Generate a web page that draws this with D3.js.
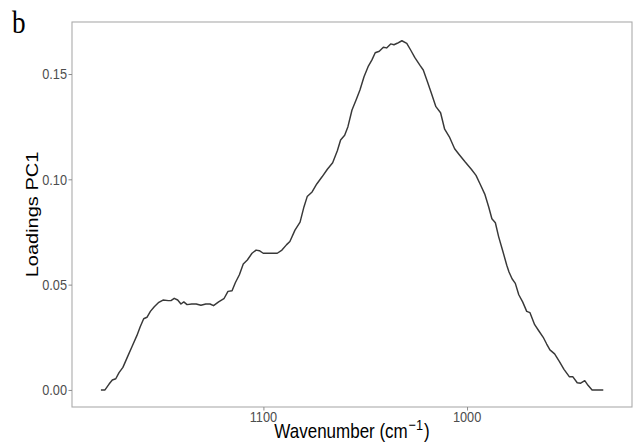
<!DOCTYPE html>
<html>
<head>
<meta charset="utf-8">
<script src="https://cdn.jsdelivr.net/npm/d3@7"></script>
<style>
  html, body { margin: 0; padding: 0; background: #fff; }
  svg { display: block; }
</style>
</head>
<body>
<svg id="chart" width="634" height="448"></svg>
<script>
// Data
const wavenumbers = [1179.8,1177.8,1175.8,1174.2,1172.5,1170.9,1169.0,1166.7,1164.4,1162.1,1160.5,1158.8,1157.2,1155.5,1153.6,1151.6,1149.3,1146.7,1145.4,1143.8,1142.1,1140.5,1139.1,1137.5,1135.2,1133.0,1130.7,1128.3,1126.2,1124.5,1122.0,1119.4,1117.4,1115.4,1113.8,1111.8,1109.9,1107.9,1105.6,1103.6,1102.0,1100.1,1097.8,1095.8,1093.2,1090.9,1088.6,1087.0,1084.5,1082.0,1080.1,1078.5,1076.1,1073.8,1071.2,1068.6,1066.0,1063.7,1062.1,1060.1,1058.5,1056.5,1054.5,1052.6,1050.6,1048.6,1046.7,1045.1,1043.1,1041.1,1039.5,1037.5,1035.9,1034.3,1032.0,1029.6,1027.7,1025.7,1023.1,1021.5,1019.5,1017.6,1015.3,1013.0,1011.0,1008.7,1006.1,1003.8,1000.9,997.9,995.6,993.6,991.3,989.4,987.8,986.1,984.5,982.5,980.5,979.4,977.9,976.3,974.6,972.7,970.7,969.1,966.8,964.8,962.6,960.9,959.3,957.0,954.7,952.4,949.8,948.1,945.9,944.2,942.2,940.6,938.6,936.3,933.1];
const loadings = [0.0000,0.0000,0.0028,0.0047,0.0053,0.0082,0.0107,0.0158,0.0209,0.0259,0.0300,0.0338,0.0345,0.0373,0.0395,0.0414,0.0427,0.0424,0.0424,0.0435,0.0427,0.0408,0.0418,0.0405,0.0408,0.0408,0.0402,0.0408,0.0408,0.0400,0.0418,0.0433,0.0468,0.0471,0.0509,0.0547,0.0598,0.0617,0.0649,0.0664,0.0661,0.0649,0.0649,0.0649,0.0649,0.0664,0.0690,0.0705,0.0759,0.0797,0.0869,0.0918,0.0940,0.0978,0.1012,0.1048,0.1079,0.1136,0.1187,0.1209,0.1250,0.1329,0.1377,0.1424,0.1487,0.1535,0.1567,0.1601,0.1608,0.1627,0.1624,0.1643,0.1639,0.1646,0.1658,0.1646,0.1614,0.1579,0.1541,0.1519,0.1465,0.1411,0.1345,0.1316,0.1238,0.1202,0.1145,0.1117,0.1082,0.1048,0.1019,0.0978,0.0930,0.0870,0.0813,0.0794,0.0728,0.0661,0.0592,0.0560,0.0528,0.0506,0.0452,0.0418,0.0373,0.0367,0.0310,0.0281,0.0250,0.0218,0.0190,0.0171,0.0136,0.0098,0.0063,0.0063,0.0034,0.0032,0.0044,0.0022,0.0000,0.0000,0.0000];
const xTicks = [1100, 1000];
const yTicks = [0.00, 0.05, 0.10, 0.15];
const xDomain = [1194, 919];
const yDomain = [-0.0081, 0.1747];
const panelLabel = "b";
const yTitle = "Loadings PC1";

(function () {
const svg = d3.select("#chart");
const pL = 72, pR = 632, pT = 22, pB = 407;
const sx = 0.85; // horizontal compression of the original figure

const x = d3.scaleLinear().domain(xDomain).range([pL, pR]);
const y = d3.scaleLinear().domain(yDomain).range([pB, pT]);

// Panel border
svg.append("rect")
  .attr("x", pL).attr("y", pT)
  .attr("width", pR - pL).attr("height", pB - pT)
  .attr("fill", "none").attr("stroke", "#ababab").attr("stroke-width", 1.1);

// Axes
const xAxis = svg.append("g").attr("transform", `translate(0,${pB})`)
  .call(d3.axisBottom(x).tickValues(xTicks).tickSize(3.5).tickPadding(2).tickFormat(d3.format("d")));
const yAxis = svg.append("g").attr("transform", `translate(${pL},0)`)
  .call(d3.axisLeft(y).tickValues(yTicks).tickSize(3.5).tickPadding(2).tickFormat(d3.format(".2f")));
[xAxis, yAxis].forEach(g => {
  g.select(".domain").remove();
  g.selectAll(".tick line").attr("stroke", "#8c8c8c").attr("stroke-width", 1);
  g.selectAll(".tick text").remove();
});

// Tick labels (drawn with horizontal compression)
xTicks.forEach(t => {
  svg.append("text")
    .attr("transform", `translate(${x(t)},${421.5}) scale(${sx},1)`)
    .attr("text-anchor", "middle")
    .attr("font-family", "Liberation Sans, Arial, sans-serif")
    .attr("font-size", 15).attr("fill", "#4d4d4d")
    .text(d3.format("d")(t));
});
yTicks.forEach(t => {
  svg.append("text")
    .attr("transform", `translate(${67},${y(t) + 5.3}) scale(${sx},1)`)
    .attr("text-anchor", "end")
    .attr("font-family", "Liberation Sans, Arial, sans-serif")
    .attr("font-size", 15).attr("fill", "#4d4d4d")
    .text(d3.format(".2f")(t));
});

// Line
const data = wavenumbers.map((w, i) => ({ w, v: loadings[i] }));
svg.append("path")
  .datum(data)
  .attr("fill", "none")
  .attr("stroke", "#383838")
  .attr("stroke-width", 1.45)
  .attr("stroke-linejoin", "round")
  .attr("d", d3.line().x(d => x(d.w)).y(d => y(d.v)));

// X title
const xt = svg.append("text")
  .attr("transform", `translate(${(pL + pR) / 2},${437.5}) scale(${sx},1)`)
  .attr("text-anchor", "middle")
  .attr("font-family", "Liberation Sans, Arial, sans-serif")
  .attr("font-size", 20).attr("fill", "#000");
xt.append("tspan").text("Wavenumber (cm");
xt.append("tspan").attr("font-size", 15).attr("dx", 1).attr("dy", -8).text("\u22121");
xt.append("tspan").attr("dx", 1).attr("dy", 8).text(")");

// Y title
svg.append("text")
  .attr("transform", `translate(${38},${(pT + pB) / 2}) scale(${sx},1) rotate(-90)`)
  .attr("text-anchor", "middle")
  .attr("font-family", "Liberation Sans, Arial, sans-serif")
  .attr("font-size", 20).attr("fill", "#000")
  .text(yTitle);

// Panel label
svg.append("text")
  .attr("transform", `translate(${12},${33}) scale(${sx},1)`)
  .attr("font-family", "Liberation Serif, Times New Roman, serif")
  .attr("font-size", 32).attr("fill", "#000")
  .text(panelLabel);
})();
</script>
</body>
</html>
